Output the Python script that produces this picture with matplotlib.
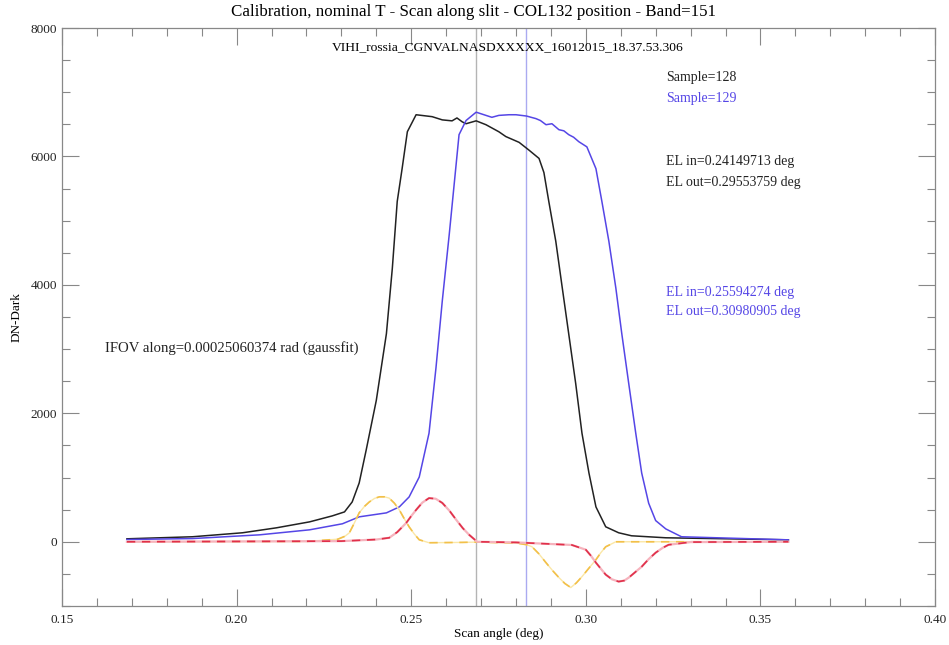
import matplotlib.pyplot as plt
from matplotlib.ticker import MultipleLocator

plt.rcParams['font.family'] = ['Liberation Serif', 'DejaVu Serif']

# sample 128 scan
x128 = [0.1686, 0.1874, 0.2017, 0.2114, 0.2209, 0.2274, 0.2309, 0.2331, 0.2351, 0.2371,
        0.2400, 0.2429, 0.2446, 0.2460, 0.2474, 0.2489, 0.2514, 0.2560, 0.2589, 0.2617,
        0.2631, 0.2646, 0.2657, 0.2686, 0.2714, 0.2751, 0.2771, 0.2809, 0.2837, 0.2866,
        0.2880, 0.2894, 0.2914, 0.2931, 0.2951, 0.2971, 0.2989, 0.3009, 0.3029, 0.3057,
        0.3094, 0.3131, 0.3229, 0.3580]
y128 = [46, 78, 140, 217, 310, 403, 465, 620, 915, 1426,
        2200, 3240, 4262, 5300, 5812, 6386, 6650, 6620, 6570, 6555,
        6600, 6540, 6510, 6555, 6495, 6385, 6310, 6220, 6100, 5970,
        5750, 5300, 4680, 4015, 3240, 2465, 1690, 1070, 543, 233,
        140, 93, 62, 30]

# sample 129 scan
x129 = [0.1686, 0.1874, 0.2066, 0.2209, 0.2303, 0.2351, 0.2429, 0.2466, 0.2494, 0.2523,
        0.2551, 0.2571, 0.2589, 0.2609, 0.2623, 0.2637, 0.2657, 0.2686, 0.2714, 0.2731,
        0.2751, 0.2780, 0.2800, 0.2830, 0.2857, 0.2870, 0.2886, 0.2903, 0.2923, 0.2937,
        0.2951, 0.2965, 0.2980, 0.3003, 0.3029, 0.3046, 0.3066, 0.3086, 0.3103, 0.3123,
        0.3143, 0.3160, 0.3180, 0.3200, 0.3229, 0.3274, 0.3580]
y129 = [35, 50, 108, 186, 280, 388, 450, 543, 698, 1008,
        1690, 2712, 3750, 4790, 5565, 6340, 6560, 6690, 6640, 6610,
        6640, 6650, 6650, 6630, 6590, 6560, 6495, 6510, 6417, 6400,
        6340, 6300, 6230, 6150, 5810, 5300, 4680, 3950, 3240, 2460,
        1690, 1070, 600, 330, 200, 78, 30]

# derivatives of the two scans
xd128 = [0.1686, 0.2200, 0.2290, 0.2310, 0.2323, 0.2337, 0.2351, 0.2366, 0.2380, 0.2395,
         0.2409, 0.2423, 0.2437, 0.2452, 0.2466, 0.2480, 0.2494, 0.2509, 0.2523, 0.2551,
         0.2646, 0.2689, 0.2800, 0.2830, 0.2846, 0.2866, 0.2886, 0.2905, 0.2923, 0.2940,
         0.2957, 0.2973, 0.2989, 0.3009, 0.3029, 0.3043, 0.3057, 0.3086, 0.3580]
yd128 = [0, 5, 40, 85, 140, 290, 450, 550, 620, 675,
         700, 700, 680, 600, 496, 360, 233, 120, 31, -15,
         -10, -5, -20, -45, -78, -190, -326, -450, -558, -650,
         -713, -640, -543, -410, -279, -170, -78, 0, 0]

xd129 = [0.1686, 0.2300, 0.2400, 0.2437, 0.2460, 0.2486, 0.2500, 0.2514, 0.2532, 0.2551,
         0.2570, 0.2589, 0.2610, 0.2629, 0.2648, 0.2666, 0.2689, 0.2800, 0.2960, 0.3000,
         0.3015, 0.3029, 0.3043, 0.3057, 0.3075, 0.3094, 0.3110, 0.3123, 0.3140, 0.3160,
         0.3180, 0.3200, 0.3220, 0.3237, 0.3300, 0.3580]
yd129 = [0, 10, 35, 62, 150, 295, 400, 496, 610, 680,
         670, 605, 480, 341, 210, 108, 0, -10, -50, -124,
         -220, -326, -420, -512, -585, -620, -605, -558, -480, -388,
         -270, -170, -95, -47, -5, 0]

el_in_128, el_out_128 = 0.24149713, 0.29553759
el_in_129, el_out_129 = 0.25594274, 0.30980905
ifov = 0.00025060374

blue = '#5546e6'

fig = plt.figure(figsize=(9.49, 6.45), dpi=100)
ax = fig.add_axes([0.0653, 0.0605, 0.920, 0.896])

ax.axvline((el_in_128 + el_out_128) / 2, color='#b4b4b4', lw=1.0)
ax.axvline((el_in_129 + el_out_129) / 2, color='#aaaaf0', lw=1.0)

ax.plot(x128, y128, color='#222222', lw=1.1)
ax.plot(x129, y129, color=blue, lw=1.1)

ax.plot(xd128, yd128, color='#fbe7a6', lw=1.0)
ax.plot(xd128, yd128, color='#f2c04a', lw=1.2, ls=(0, (5, 4)))
ax.plot(xd129, yd129, color='#f6b3bd', lw=1.6)
ax.plot(xd129, yd129, color='#e0304a', lw=1.2, ls=(0, (5, 4)))

ax.set_xlim(0.15, 0.40)
ax.set_ylim(-1000, 8000)
ax.xaxis.set_major_locator(MultipleLocator(0.05))
ax.xaxis.set_minor_locator(MultipleLocator(0.01))
ax.yaxis.set_major_locator(MultipleLocator(2000))
ax.yaxis.set_minor_locator(MultipleLocator(500))
ax.xaxis.set_major_formatter(plt.FuncFormatter(lambda v, p: f'{v:.2f}'))
ax.tick_params(which='both', direction='in', top=True, right=True,
               color='#888888', labelsize=9.5, labelcolor='#222222')
ax.tick_params(which='major', length=12, width=0.8)
ax.tick_params(which='minor', length=6, width=0.8)
ax.tick_params(axis='x', pad=6)
for s in ax.spines.values():
    s.set_color('#888888')
    s.set_linewidth(0.9)

ax.set_xlabel('Scan angle (deg)', fontsize=9.5, labelpad=1)
ax.set_ylabel('DN-Dark', fontsize=9.5, labelpad=6)
fig.text(0.499, 0.981, 'Calibration, nominal T - Scan along slit - COL132 position - Band=151',
         ha='center', va='center', fontsize=12.2)

ax.text(0.2777, 7700, 'VIHI_rossia_CGNVALNASDXXXXX_16012015_18.37.53.306',
        ha='center', va='center', fontsize=9.7)
ax.text(0.3231, 7223, 'Sample=128', va='center', fontsize=10, color='#222222')
ax.text(0.3231, 6900, 'Sample=129', va='center', fontsize=10, color=blue)
ax.text(0.3231, 5920, f'EL in={el_in_128:.8f} deg', va='center', fontsize=10, color='#222222')
ax.text(0.3231, 5595, f'EL out={el_out_128:.8f} deg', va='center', fontsize=10, color='#222222')
ax.text(0.3231, 3875, f'EL in={el_in_129:.8f} deg', va='center', fontsize=10, color=blue)
ax.text(0.3231, 3580, f'EL out={el_out_129:.8f} deg', va='center', fontsize=10, color=blue)
ax.text(0.1623, 3022, f'IFOV along={ifov:.11f} rad (gaussfit)', va='center', fontsize=10.6,
        color='#222222')

fig.savefig('out.png', dpi=100)
